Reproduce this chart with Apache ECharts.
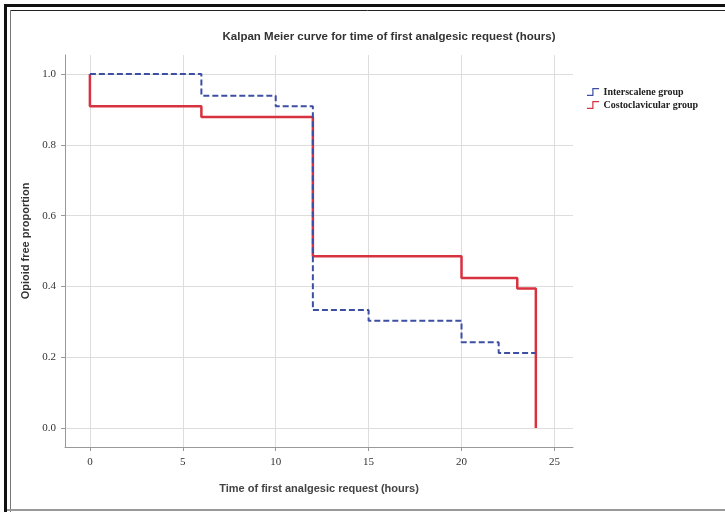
<!DOCTYPE html>
<html><head><meta charset="utf-8">
<script src="https://cdn.jsdelivr.net/npm/echarts@6/dist/echarts.min.js"></script>
<style>html,body{margin:0;padding:0;background:#fff}#c{width:725px;height:512px}</style>
</head><body><div id="c"></div>
<script>
const titleText = 'Kalpan Meier curve for time of first analgesic request (hours)';
const xName = 'Time of first analgesic request (hours)';
const yName = 'Opioid free proportion';
const groupNames = ['Interscalene group', 'Costoclavicular group'];
const xTicks = [0, 5, 10, 15, 20, 25];
const yTicks = [0, 0.2, 0.4, 0.6, 0.8, 1.0];
// Kaplan-Meier step points (time, proportion)
const interTime = [0, 6, 10, 12, 15, 20, 22, 24];
const interSurv = [1.0, 0.939, 0.909, 0.333, 0.303, 0.242, 0.212, 0.212];
const costoTime = [0, 0, 6, 12, 20, 23, 24];
const costoSurv = [1.0, 0.909, 0.879, 0.485, 0.424, 0.394, 0.0];

const zip = (t, s) => t.map((v, i) => [v, s[i]]);
const serif = 'Liberation Serif';
const stepIcon = 'path://M0,9 L7,9 L7,0 L16,0 L16,1.6 L8.6,1.6 L8.6,10.6 L0,10.6 Z';
const chart = echarts.init(document.getElementById('c'), null, {renderer: 'canvas'});
chart.setOption({
  animation: false,
  backgroundColor: '#fff',
  title: {
    text: titleText, left: 384, textAlign: 'center', top: 26,
    textStyle: {fontSize: 11.5, fontWeight: 'bold', color: '#333', fontFamily: 'Liberation Sans'}
  },
  legend: {
    orient: 'vertical', left: 582, top: 82, itemWidth: 15, itemHeight: 8, itemGap: 3,
    icon: stepIcon,
    textStyle: {fontFamily: serif, fontWeight: 'bold', fontSize: 10, color: '#222', padding: [0,0,0,-2]},
    data: groupNames
  },
  grid: {left: 65, right: 152, top: 55, bottom: 65},
  xAxis: {
    type: 'value', min: -1.34, max: 26,
    name: xName, nameLocation: 'middle', nameGap: 36,
    nameTextStyle: {fontSize: 11, fontWeight: 'bold', color: '#444', fontFamily: 'Liberation Sans'},
    axisLine: {show: true, onZero: false, lineStyle: {color: '#999'}},
    axisTick: {show: true, length: 4, customValues: xTicks, lineStyle: {color: '#999'}},
    axisLabel: {customValues: xTicks, margin: 10, fontFamily: serif, fontSize: 11, color: '#333'},
    splitLine: {show: true, lineStyle: {color: '#ddd'}}
  },
  yAxis: {
    type: 'value', min: -0.054, max: 1.054,
    name: yName, nameLocation: 'middle', nameGap: 31,
    nameTextStyle: {fontSize: 11, color: '#333', fontWeight: 'bold', fontFamily: 'Liberation Sans', padding: [0, 0, 0, 20]},
    axisLine: {show: true, onZero: false, lineStyle: {color: '#999'}},
    axisTick: {show: true, length: 4, customValues: yTicks, lineStyle: {color: '#999'}},
    axisLabel: {customValues: yTicks, margin: 9, fontFamily: serif, fontSize: 11, color: '#333',
      formatter: v => v.toFixed(1)},
    splitLine: {show: true, lineStyle: {color: '#ddd'}}
  },
  series: [
    {name: groupNames[0], type: 'line', step: 'end', symbol: 'none', data: zip(interTime, interSurv),
      lineStyle: {color: '#3d4fa3', width: 2, type: [6, 3]}, itemStyle: {color: '#3d4fa3'}, z: 3},
    {name: groupNames[1], type: 'line', step: 'end', symbol: 'none', data: zip(costoTime, costoSurv),
      lineStyle: {color: '#d8313f', width: 2.5}, itemStyle: {color: '#d8313f'}, z: 2}
  ],
  graphic: [
    {type: 'rect', shape: {x: 4, y: 4, width: 721, height: 3}, style: {fill: '#111'}},
    {type: 'rect', shape: {x: 4, y: 4, width: 3, height: 508}, style: {fill: '#111'}},
    {type: 'line', shape: {x1: 10, y1: 10.5, x2: 725, y2: 10.5}, style: {stroke: '#222', lineWidth: 1}},
    {type: 'line', shape: {x1: 10.5, y1: 10, x2: 10.5, y2: 512}, style: {stroke: '#777', lineWidth: 1}},
    {type: 'line', shape: {x1: 7, y1: 510, x2: 725, y2: 510}, style: {stroke: '#999', lineWidth: 2}}
  ]
});
</script></body></html>
